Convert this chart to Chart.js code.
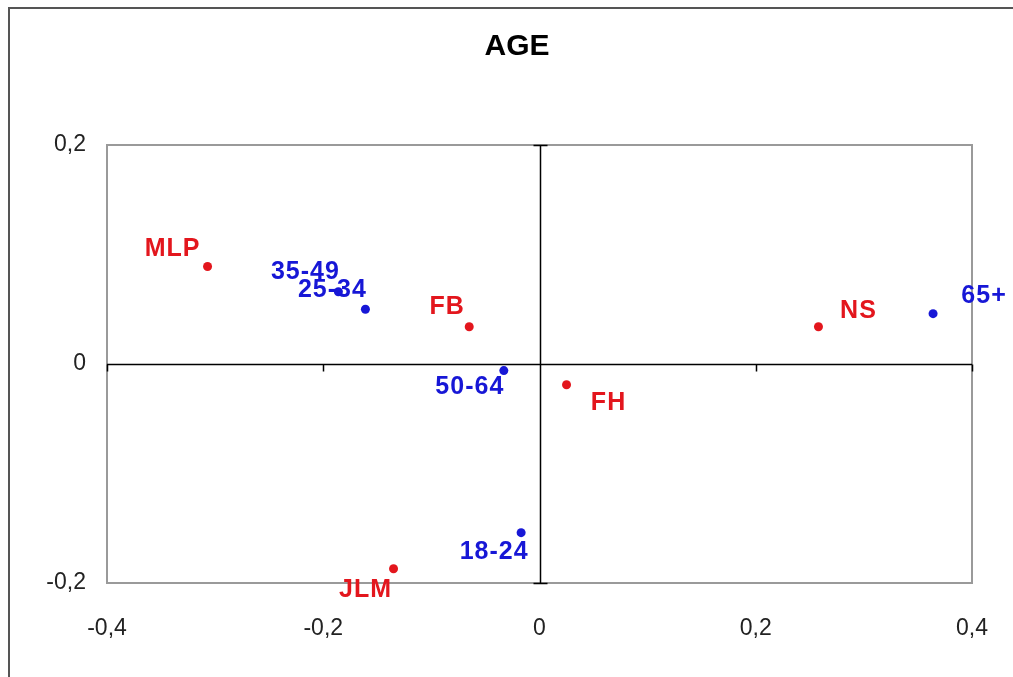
<!DOCTYPE html>
<html>
<head>
<meta charset="utf-8">
<script src="https://cdn.jsdelivr.net/npm/chart.js@4/dist/chart.umd.min.js"></script>
<style>
  html, body { margin: 0; padding: 0; background: #ffffff; }
  #wrap { width: 1013px; height: 677px; position: relative; }
</style>
</head>
<body>
<div id="wrap"><canvas id="c" width="1013" height="677"></canvas></div>
<script>
// ---- data ----
const title = "AGE";
const candidateLabels = ["MLP", "FB", "NS", "FH", "JLM"];
const candidateX = [-0.307, -0.065, 0.258, 0.025, -0.135];
const candidateY = [0.089, 0.034, 0.034, -0.019, -0.187];

const ageLabels = ["35-49", "25-34", "50-64", "18-24", "65+"];
const ageX = [-0.186, -0.161, -0.033, -0.017, 0.364];
const ageY = [0.066, 0.050, -0.006, -0.154, 0.046];

const xTicks = [-0.4, -0.2, 0, 0.2, 0.4];
const yTicks = [-0.2, 0, 0.2];

// ---- styles (label offsets in px relative to the point) ----
const RED = "#e3161d";
const BLUE = "#1717d6";
const candidateOffsets = [[-35, -17], [-22, -20], [40, -16], [42, 18], [-28, 21]];
const ageOffsets = [[-33, -20], [-33, -19], [-34, 17], [-27, 19], [51, -18]];

function fmt(v) {
  if (Math.abs(v) < 1e-9) return "0";
  return v.toFixed(1).replace(".", ",");
}

const decor = {
  id: "decor",
  beforeDraw(chart) {
    const ctx = chart.ctx;
    ctx.save();
    ctx.fillStyle = "#ffffff";
    ctx.fillRect(0, 0, chart.width, chart.height);
    // outer frame
    ctx.strokeStyle = "#555555";
    ctx.lineWidth = 2;
    ctx.strokeRect(9, 8, chart.width + 20, chart.height + 20);
    // plot area frame
    const a = chart.chartArea;
    ctx.strokeStyle = "#9a9a9a";
    ctx.lineWidth = 2;
    ctx.strokeRect(a.left, a.top, a.right - a.left, a.bottom - a.top);
    // zero axes
    const xs = chart.scales.x, ys = chart.scales.y;
    const x0 = Math.round(xs.getPixelForValue(0)) + 0.5;
    const y0 = Math.round(ys.getPixelForValue(0)) + 0.5;
    ctx.strokeStyle = "#000000";
    ctx.lineWidth = 1.5;
    ctx.beginPath();
    ctx.moveTo(a.left, y0); ctx.lineTo(a.right, y0);
    ctx.moveTo(x0, a.top); ctx.lineTo(x0, a.bottom);
    // tick marks
    xTicks.forEach(v => {
      const px = Math.round(xs.getPixelForValue(v)) + 0.5;
      ctx.moveTo(px, y0); ctx.lineTo(px, y0 + 7);
    });
    yTicks.forEach(v => {
      const py = Math.round(ys.getPixelForValue(v)) + 0.5;
      ctx.moveTo(x0 - 7, py); ctx.lineTo(x0 + 7, py);
    });
    ctx.stroke();
    // title
    ctx.fillStyle = "#000000";
    ctx.font = "bold 30px 'Liberation Sans', Arial, sans-serif";
    ctx.textAlign = "center";
    ctx.textBaseline = "middle";
    ctx.fillText(title, 517, 47);
    ctx.restore();
  },
  afterDatasetsDraw(chart) {
    const ctx = chart.ctx;
    ctx.save();
    ctx.font = "bold 25px 'Liberation Sans', Arial, sans-serif";
    try { ctx.letterSpacing = "1px"; } catch (e) {}
    ctx.textAlign = "center";
    ctx.textBaseline = "middle";
    const xs = chart.scales.x, ys = chart.scales.y;
    const draw = (labels, xsArr, ysArr, offs, color) => {
      ctx.fillStyle = color;
      labels.forEach((l, i) => {
        const px = xs.getPixelForValue(xsArr[i]);
        const py = ys.getPixelForValue(ysArr[i]);
        ctx.fillText(l, px + offs[i][0], py + offs[i][1]);
      });
    };
    draw(candidateLabels, candidateX, candidateY, candidateOffsets, RED);
    draw(ageLabels, ageX, ageY, ageOffsets, BLUE);
    ctx.restore();
  }
};

new Chart(document.getElementById("c"), {
  type: "scatter",
  data: {
    datasets: [
      {
        label: "Candidates",
        data: candidateX.map((x, i) => ({ x, y: candidateY[i] })),
        backgroundColor: RED,
        borderColor: RED,
        pointRadius: 4.5,
        pointBorderWidth: 0
      },
      {
        label: "Age",
        data: ageX.map((x, i) => ({ x, y: ageY[i] })),
        backgroundColor: BLUE,
        borderColor: BLUE,
        pointRadius: 4.5,
        pointBorderWidth: 0
      }
    ]
  },
  options: {
    responsive: false,
    animation: false,
    devicePixelRatio: 1,
    layout: { padding: { top: 145, right: 41, left: 0, bottom: 0 } },
    plugins: {
      legend: { display: false },
      title: { display: false },
      tooltip: { enabled: false }
    },
    scales: {
      x: {
        type: "linear",
        min: -0.4, max: 0.4,
        afterBuildTicks(s) { s.ticks = xTicks.map(v => ({ value: v })); },
        afterFit(s) { s.height = 94; s.paddingLeft = 0; s.paddingRight = 0; },
        grid: { display: false, drawTicks: false },
        border: { display: false },
        ticks: {
          padding: 32,
          color: "#222222",
          font: { family: "'Liberation Sans', Arial, sans-serif", size: 23 },
          callback: v => fmt(v)
        }
      },
      y: {
        type: "linear",
        min: -0.2, max: 0.2,
        afterBuildTicks(s) { s.ticks = yTicks.map(v => ({ value: v })); },
        afterFit(s) { s.width = 107; s.paddingTop = 0; s.paddingBottom = 0; },
        grid: { display: false, drawTicks: false },
        border: { display: false },
        ticks: {
          padding: 21,
          color: "#222222",
          font: { family: "'Liberation Sans', Arial, sans-serif", size: 23 },
          callback: v => fmt(v)
        }
      }
    }
  },
  plugins: [decor]
});
</script>
</body>
</html>
